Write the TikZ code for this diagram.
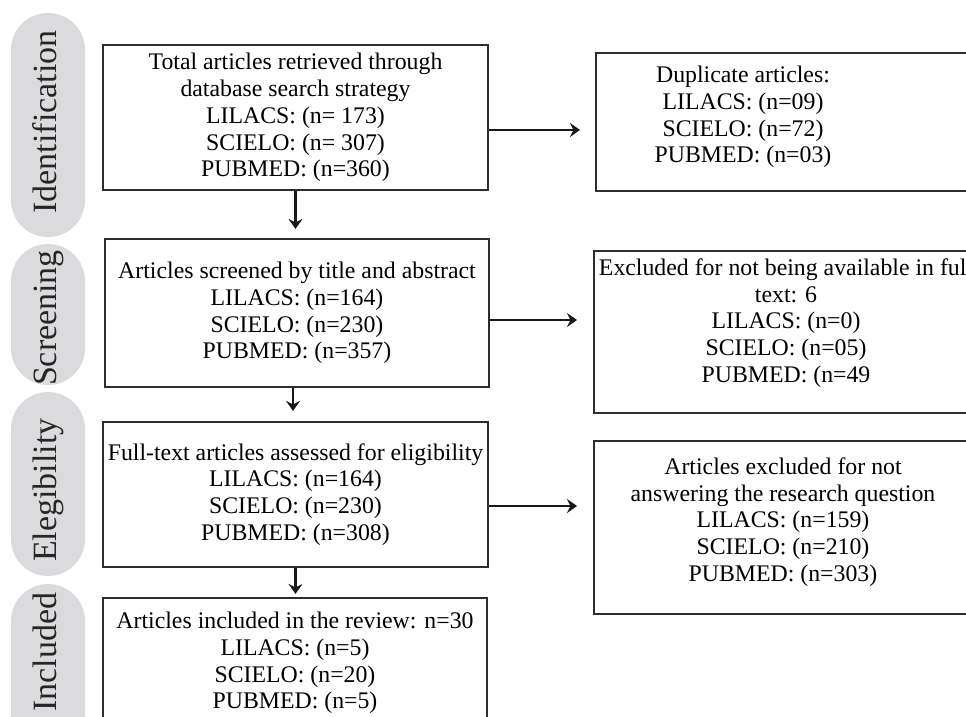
\documentclass[tikz,border=0pt]{standalone}
\usepackage{fontspec}
\setmainfont{Liberation Serif}
\usetikzlibrary{arrows.meta}
\definecolor{pillgray}{RGB}{219,219,221}
\definecolor{edgecol}{RGB}{45,45,45}
\begin{document}
\begin{tikzpicture}[x=1pt,y=-1pt,
  box/.style={draw=edgecol, line width=2.2pt, inner sep=0pt, align=center, font=\fontsize{23.8}{26.8}\selectfont},
  rbox/.style={draw=edgecol, line width=2.2pt, inner sep=0pt, minimum width=420pt, anchor=north west},
  lbl/.style={align=center, inner sep=0pt, font=\fontsize{23.8}{26.8}\selectfont},
  pill/.style={fill=pillgray, rounded corners=36.9pt, inner sep=0pt, minimum width=74pt},
  stage/.style={rotate=90, anchor=base, inner sep=0pt, text=black!85, font=\fontsize{34}{40}\selectfont},
  arr/.style={draw=black!90, line width=2.2pt, -{Stealth[length=10pt,width=14pt,inset=3.5pt]}}]
\useasboundingbox (0,0) rectangle (966,716);
\clip (0,0) rectangle (966,716);
\fill[white] (0,0) rectangle (966,716);

% stage pills
\node[pill, minimum height=224pt] (p1) at (48,125) {};
\node[pill, minimum height=141pt] (p2) at (48,314.5) {};
\node[pill, minimum height=184pt] (p3) at (48,484) {};
\node[pill, minimum height=176pt] (p4) at (48,672) {};
\node[stage] (s1) at (56,122) {Identification};
\node[stage] (s2) at (56,318) {Screening};
\node[stage] (s3) at (56,490) {Elegibility};
\node[stage] (s4) at (56,652) {Included};

% main column
\node[box, minimum width=385pt, minimum height=145pt] (b1) at (295.5,117.5)
  {Total articles retrieved through\\database search strategy\\LILACS: (n= 173)\\SCIELO: (n= 307)\\PUBMED: (n=360)};
\node[box, minimum width=384pt, minimum height=148pt] (b2) at (297,313)
  {Articles screened by title and abstract\\LILACS: (n=164)\\SCIELO: (n=230)\\PUBMED: (n=357)};
\node[box, minimum width=385pt, minimum height=145pt] (b3) at (295.5,494.5)
  {Full-text articles assessed for eligibility\\LILACS: (n=164)\\SCIELO: (n=230)\\PUBMED: (n=308)};
\node[box, minimum width=384pt, minimum height=130pt] (b4) at (295,663)
  {Articles included in the review: n=30\\LILACS: (n=5)\\SCIELO: (n=20)\\PUBMED: (n=5)};

% right column
\node[rbox, minimum height=138pt] (r1) at (595,52) {};
\node[lbl] (r1t) at (743,117) {Duplicate articles:\\LILACS: (n=09)\\SCIELO: (n=72)\\PUBMED: (n=03)};
\node[rbox, minimum height=162pt] (r2) at (593,250) {};
\node[lbl] (r2t) at (786,323) {Excluded for not being available in ful\phantom{l}\\text: 6\\LILACS: (n=0)\\SCIELO: (n=05)\\PUBMED: (n=49};
\node[rbox, minimum height=173pt] (r3) at (593,440) {};
\node[lbl] (r3t) at (783,522) {Articles excluded for not\\answering the research question\\LILACS: (n=159)\\SCIELO: (n=210)\\PUBMED: (n=303)};

% connectors
\draw[arr, shorten >=15pt] ([yshift=-12.5pt]b1.east) -- ([yshift=-12.5pt]b1.east -| r1.west);
\draw[arr, shorten >=16pt] ([yshift=-7pt]b2.east) -- ([yshift=-7pt]b2.east -| r2.west);
\draw[arr, shorten >=16pt] ([yshift=-11.5pt]b3.east) -- ([yshift=-11.5pt]b3.east -| r3.west);
\draw[arr, shorten >=9pt] (b1.south) -- (b1.south |- b2.north);
\draw[arr, shorten >=10pt] ([xshift=-4pt]b2.south) -- ([xshift=-4pt]b2.south |- b3.north);
\draw[arr, shorten >=3pt] (b3.south) -- (b3.south |- b4.north);
\end{tikzpicture}
\end{document}
